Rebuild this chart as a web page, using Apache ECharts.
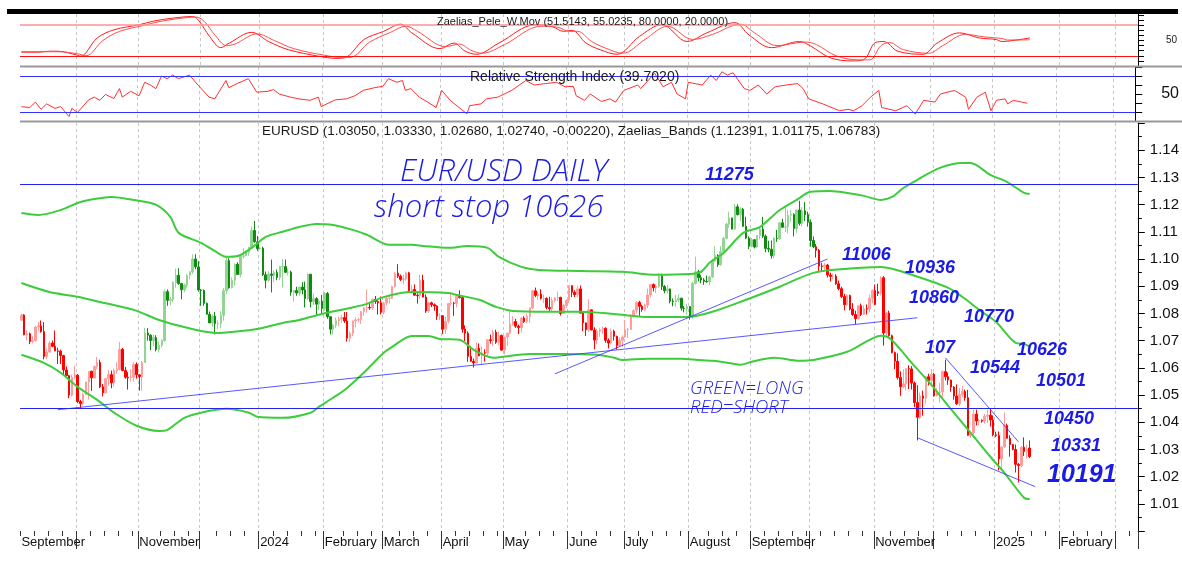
<!DOCTYPE html>
<html>
<head>
<meta charset="utf-8">
<script src="https://cdn.jsdelivr.net/npm/echarts/dist/echarts.min.js"></script>
<style>
  html, body { margin: 0; padding: 0; background: #fff; }
  #chart { width: 1182px; height: 567px; }
</style>
</head>
<body>
<div id="chart"></div>
<script>
// daily bars, values in pips above 1.0000: [open, high, low, close]
const sep23 = [[775,799,775,794],[794,797,720,721],[721,738,701,725],[725,730,687,697],[697,717,690,700],[700,752,697,750],[750,769,736,754],[754,774,729,733],[733,768,631,642],[642,670,632,658],[658,698,655,691],[691,700,675,679],[679,737,661,662],[662,674,614,661],[661,667,613,645],[645,648,576,592],[592,605,569,571],[571,574,488,500],[500,575,495,565],[565,608,559,573]];
const oct23 = [[573,577,470,476],[476,482,448,468],[468,509,465,503],[503,550,500,548],[548,588,483,587],[587,590,515,563],[563,608,560,605],[605,640,595,620],[620,630,525,530],[530,540,495,508],[508,563,505,560],[560,592,535,575],[575,590,525,545],[545,597,530,590],[590,620,578,594],[594,695,590,668],[668,673,587,590],[590,603,560,565],[565,584,520,563],[563,595,550,565],[565,620,550,612],[612,620,560,574]];
const nov23 = [[574,577,516,568],[568,625,516,620],[620,747,618,728],[728,746,700,720],[720,723,665,700],[700,722,680,711],[711,720,660,667],[667,697,656,683],[683,705,675,700],[700,888,695,880],[880,888,828,848],[848,860,830,851],[851,918,842,914],[914,965,895,940],[940,966,905,910],[910,910,852,887],[887,910,878,904],[904,945,895,940],[940,955,925,953],[953,1017,945,1000],[1000,1017,962,971],[971,992,880,886]];
const dec23 = [[886,890,828,884],[884,888,828,837],[837,840,795,797],[797,807,765,765],[765,795,750,790],[790,805,723,762],[762,775,743,763],[763,808,745,793],[793,893,773,883],[883,1009,870,994],[994,1003,891,894],[894,932,892,922],[922,983,902,981],[981,988,941,943],[943,1013,933,1010],[1010,1040,1002,1012],[1012,1030,1010,1025],[1025,1045,1012,1043],[1043,1120,1040,1105],[1105,1140,1060,1063],[1063,1085,1030,1038]];
const jan24 = [[1038,1045,1035,1040],[1040,1045,937,942],[942,954,892,922],[922,955,917,945],[945,998,877,940],[940,958,915,950],[950,961,922,932],[932,975,922,972],[972,1000,896,972],[972,998,949,951],[951,965,939,952],[952,957,865,878],[878,887,844,884],[884,898,865,875],[875,898,865,897],[897,915,870,886],[886,917,822,855],[855,948,850,944],[944,944,822,843],[843,873,830,854],[854,860,795,834],[834,852,812,845],[845,868,795,818]];
const feb24 = [[818,878,810,873],[873,879,780,788],[788,790,723,742],[742,762,722,757],[757,785,747,773],[773,788,753,779],[779,795,765,785],[785,805,765,772],[772,805,696,709],[709,733,695,727],[727,774,716,772],[772,786,749,776],[776,785,767,777],[777,809,761,807],[807,823,792,820],[820,888,803,822],[822,837,813,820],[820,855,812,851],[851,864,835,844],[844,848,796,839],[839,862,796,804]];
const mar24 = [[804,843,797,838],[838,865,830,856],[856,866,836,856],[856,902,853,899],[899,951,895,948],[948,981,930,937],[937,943,919,925],[925,942,907,927],[927,954,920,949],[949,953,876,883],[883,904,874,888],[888,907,865,867],[867,874,836,865],[865,942,853,922],[922,942,859,860],[860,870,802,809],[809,842,803,839],[839,843,823,832],[832,837,810,827],[827,830,776,790],[790,800,775,791]];
const apr24 = [[791,794,724,742],[742,788,725,771],[771,838,763,836],[836,877,829,838],[838,842,791,837],[837,863,822,862],[862,885,855,858],[858,860,729,742],[742,756,698,727],[727,734,622,642],[642,680,621,624],[624,634,601,618],[618,693,617,672],[672,690,643,644],[644,679,610,655],[655,668,623,654],[654,705,640,703],[703,722,689,700],[700,739,680,731],[731,740,688,694],[694,733,682,719],[719,722,663,665]];
const may24 = [[665,713,650,713],[713,728,680,727],[727,811,723,761],[761,790,755,770],[770,780,747,753],[753,759,724,748],[748,786,730,783],[783,790,765,770],[770,799,764,789],[789,822,765,820],[820,886,815,883],[883,895,860,866],[866,880,850,871],[871,889,851,855],[855,869,838,855],[855,859,815,822],[822,861,805,818],[818,858,805,847],[847,860,840,857],[857,880,845,859],[859,861,792,800],[800,834,799,830],[830,852,820,848]];
const jun24 = [[848,904,838,902],[902,903,860,878],[878,885,860,869],[869,902,860,890],[890,902,800,801],[801,806,735,765],[765,767,717,740],[740,852,732,813],[813,815,738,739],[739,749,668,702],[702,743,687,735],[735,747,714,740],[740,752,725,745],[745,749,692,701],[701,708,671,691],[691,744,688,734],[734,740,700,716],[716,718,667,682],[682,712,677,701],[701,719,678,713]];
const jul24 = [[713,776,710,740],[740,747,710,741],[741,796,739,790],[790,815,785,810],[810,845,800,840],[840,846,791,826],[826,832,806,814],[814,836,808,830],[830,891,819,868],[868,907,860,906],[906,910,881,894],[894,906,875,899],[899,948,894,938],[938,946,886,899],[899,904,874,883],[883,905,873,890],[890,891,837,845],[845,855,826,843],[843,868,825,849],[849,870,841,856],[856,857,810,819],[819,827,804,817],[817,834,795,825]];
const aug24 = [[825,827,777,789],[789,915,780,910],[910,1009,906,953],[953,960,918,931],[931,942,911,923],[923,930,905,918],[918,939,913,916],[916,938,903,934],[934,1000,930,993],[993,1047,990,1013],[1013,1018,971,979],[979,1047,975,1027],[1027,1081,1020,1076],[1076,1133,1072,1128],[1128,1174,1115,1151],[1151,1152,1108,1110],[1110,1202,1107,1192],[1192,1201,1160,1163],[1163,1190,1140,1183],[1183,1188,1118,1120],[1120,1155,1073,1077],[1077,1083,1036,1047]];
const sep24 = [[1047,1077,1043,1071],[1071,1073,1039,1044],[1044,1088,1041,1086],[1086,1120,1072,1110],[1110,1155,1077,1084],[1084,1090,1025,1039],[1039,1067,1025,1036],[1036,1068,1001,1012],[1012,1080,1003,1076],[1076,1107,1063,1075],[1075,1136,1070,1133],[1133,1148,1115,1117],[1117,1189,1099,1118],[1118,1180,1094,1161],[1161,1180,1137,1164],[1164,1168,1083,1112],[1112,1182,1095,1180],[1180,1214,1123,1131],[1131,1190,1120,1177],[1177,1209,1140,1163],[1163,1174,1119,1135]];
const oct24 = [[1135,1145,1045,1068],[1068,1083,1040,1045],[1045,1055,1005,1032],[1032,1037,951,974],[974,986,953,973],[973,985,956,978],[978,982,932,941],[941,950,917,936],[936,947,926,937],[937,944,905,909],[909,921,885,891],[891,898,857,862],[862,872,811,832],[832,870,828,866],[866,869,811,816],[816,838,791,796],[796,810,761,781],[781,829,778,828],[828,836,790,796],[796,829,793,817],[817,833,796,816],[816,870,804,856],[856,888,837,884]];
const nov24 = [[884,906,831,833],[880,909,864,874],[874,937,866,931],[931,937,682,728],[728,805,718,801],[801,810,709,718],[718,722,653,656],[656,660,595,624],[624,653,557,564],[564,587,497,530],[530,594,525,541],[541,600,517,597],[597,609,522,596],[596,606,520,544],[544,550,455,472],[472,536,333,418],[418,509,411,496],[496,516,424,488],[488,570,468,567],[567,578,535,553],[553,596,532,576]];
const dec24 = [[576,581,494,497],[497,525,495,510],[510,545,472,511],[511,590,490,586],[586,630,554,567],[567,583,537,555],[555,556,512,529],[529,533,483,496],[496,539,463,468],[468,525,459,502],[502,534,492,513],[513,520,479,490],[490,519,350,352],[352,367,343,362],[362,445,343,430],[430,446,388,404],[404,413,389,407],[407,410,398,404],[404,431,395,422],[422,446,397,426],[426,448,384,408],[408,425,348,354]];
const jan25 = [[354,365,345,351],[351,366,223,265],[265,310,227,309],[309,436,305,388],[388,395,340,341],[341,352,273,318],[318,320,297,300],[300,318,215,245],[245,250,178,241],[241,312,234,308],[308,344,276,292],[292,317,266,300],[305,333,268,274]];

// green = long, red = short
const regimeStart = ['2023-09-04', '2023-11-03', '2024-02-08', '2024-07-17', '2024-10-03'];
const regimeSide = ['short', 'long', 'short', 'long', 'short'];

// Zaelias bands, [bar index, price]
const upperBand = [[0,1.1169],[6,1.1162],[14,1.1180],[20,1.1206],[24,1.1217],[32,1.1228],[40,1.1217],[48,1.1199],[53,1.1155],[56,1.1096],[64,1.1059],[70,1.1022],[73,1.1008],[77,1.1011],[82,1.1041],[87,1.1081],[93,1.1100],[99,1.1118],[105,1.1129],[111,1.1125],[118,1.1107],[123,1.1089],[131,1.1052],[139,1.1052],[143,1.1048],[152,1.1041],[159,1.1048],[166,1.1041],[170,1.1008],[178,1.0971],[184,1.0960],[199,1.0956],[214,1.0953],[226,1.0942],[238,1.0945],[242,1.0953],[245,1.0986],[250,1.1022],[257,1.1096],[263,1.1118],[270,1.1180],[276,1.1217],[281,1.1247],[288,1.1250],[294,1.1243],[300,1.1232],[306,1.1217],[310,1.1228],[314,1.1261],[319,1.1291],[327,1.1335],[335,1.1353],[338,1.1353],[345,1.1309],[351,1.1283],[357,1.1243],[359,1.1239]];
const middleBand = [[0,1.0912],[10,1.0879],[20,1.0861],[28,1.0842],[40,1.0813],[49,1.0776],[59,1.0747],[70,1.0728],[75,1.0732],[84,1.0743],[93,1.0765],[99,1.0776],[107,1.0798],[117,1.0820],[123,1.0835],[128,1.0857],[135,1.0875],[139,1.0879],[152,1.0875],[155,1.0868],[163,1.0850],[169,1.0824],[175,1.0809],[187,1.0806],[199,1.0806],[211,1.0798],[223,1.0787],[237,1.0787],[246,1.0806],[258,1.0850],[270,1.0898],[282,1.0949],[294,1.0964],[306,1.0971],[310,1.0964],[317,1.0942],[330,1.0894],[335,1.0861],[341,1.0813],[347,1.0769],[354,1.0692],[357,1.0688],[359,1.0678]];
const lowerBand = [[0,1.0648],[8,1.0618],[14,1.0582],[20,1.0530],[27,1.0482],[33,1.0435],[41,1.0387],[49,1.0368],[52,1.0372],[58,1.0416],[64,1.0435],[73,1.0449],[81,1.0435],[84,1.0420],[93,1.0416],[103,1.0435],[106,1.0457],[111,1.0490],[116,1.0526],[123,1.0593],[129,1.0655],[132,1.0677],[139,1.0717],[145,1.0717],[149,1.0706],[156,1.0703],[161,1.0666],[168,1.0637],[171,1.0640],[181,1.0651],[193,1.0651],[205,1.0648],[211,1.0637],[214,1.0629],[223,1.0633],[235,1.0633],[241,1.0629],[246,1.0626],[252,1.0618],[256,1.0611],[260,1.0622],[268,1.0637],[277,1.0626],[282,1.0629],[294,1.0659],[302,1.0703],[306,1.0718],[309,1.0710],[314,1.0655],[317,1.0618],[324,1.0537],[330,1.0460],[338,1.0361],[345,1.0273],[350,1.0214],[357,1.0122],[359,1.01175]];

// drawn trend lines, [bar index, price]
const trendLines = [
  [[13,1.0446],[319,1.0784]],
  [[190,1.0578],[287,1.1000]],
  [[329,1.0637],[355,1.0328]],
  [[319,1.0343],[361,1.0163]]
];
const levelLines = [1.1275, 1.045];

// Zaelias_Pele_W.Mov lines, [bar index, value]
const peleFast = [[0,27],[6,27],[10,29],[13,29],[20,21],[21,19],[27,55],[33,71],[42,81],[47,88],[54,94],[61,97],[63,90],[67,58],[71,36],[74,45],[82,66],[88,48],[95,32],[106,19],[112,15],[115,16],[122,52],[129,68],[135,82],[139,65],[149,34],[154,45],[158,29],[162,23],[170,45],[183,81],[189,77],[193,68],[196,70],[201,45],[206,32],[212,23],[220,58],[228,81],[237,48],[244,65],[254,85],[259,61],[267,36],[277,48],[281,39],[288,16],[296,10],[300,13],[304,46],[307,48],[312,29],[321,23],[326,45],[334,65],[341,55],[347,52],[349,48],[353,50],[359,55]];
const peleSlow = [[0,28],[6,28],[10,28],[13,28],[20,24],[23,20],[29,50],[35,68],[43,79],[49,87],[56,93],[62,96],[65,88],[69,60],[73,40],[76,43],[84,63],[90,50],[97,34],[108,21],[114,17],[117,17],[124,47],[131,65],[137,78],[141,68],[151,38],[156,43],[160,31],[164,25],[172,42],[185,78],[191,76],[195,68],[198,68],[203,48],[208,35],[214,25],[222,52],[230,78],[239,52],[246,62],[256,82],[261,65],[269,40],[279,47],[283,42],[290,20],[298,12],[302,12],[306,40],[309,46],[314,32],[323,25],[328,40],[336,62],[343,57],[349,54],[351,51],[355,51],[359,51.5]];

// Relative Strength Index, [bar index, value]
const rsiLine = [[0,35.9],[3,35],[5,41],[7,33],[9,39],[12,34],[14,36],[17,25],[18,34],[20,29.5],[24,43.5],[26,46.5],[28,43],[30,49.5],[33,45],[35,56],[36,46.5],[39,53],[42,48],[44,63],[46,60],[48,56],[50,70],[52,67],[54,71],[56,67],[60,71],[63,60],[67,46.5],[69,44.6],[73,65],[74,57],[77,61.6],[81,67],[84,52],[88,53],[90,55],[92,50],[96,46.5],[99,44.6],[103,43],[106,46.5],[107,36],[112,43.5],[116,44.6],[119,48],[122,54],[126,57],[129,58.5],[131,67],[134,63],[136,65],[137,54],[139,56],[142,46.5],[145,41],[148,35],[150,54],[153,43],[157,33],[159,28],[160,37],[164,39],[166,44.6],[170,46.5],[175,54],[180,65],[183,60],[187,61.6],[191,63],[194,58],[197,58.5],[198,48],[201,43],[203,50],[207,41.6],[210,44.6],[212,41],[215,54],[220,60],[221,56],[226,73],[229,58],[232,63],[234,50],[237,44.6],[238,63],[243,60],[246,71],[248,65],[250,74.7],[252,71],[254,73.6],[255,69],[258,56],[260,54],[263,60],[266,50],[269,58],[273,60],[277,61.6],[279,56],[281,44.6],[286,39],[292,31.4],[295,33],[297,31.4],[300,37],[303,46.5],[306,54],[307,35],[312,31.4],[316,37],[319,27.7],[322,43],[326,41],[328,50],[333,54],[337,46.5],[338,33],[341,46.5],[344,52],[346,31.4],[348,43],[351,44.6],[352,39],[354,43],[357,41],[359,39.7]];

// x axis: month starts (grid + long tick) and the month labels that are printed
const monthStarts = ['2023-10-02','2023-11-01','2023-12-01','2024-01-01','2024-02-01','2024-03-01','2024-04-01','2024-05-01','2024-06-03','2024-07-01','2024-08-01','2024-09-02','2024-10-01','2024-11-01','2024-12-02','2025-01-01','2025-02-03','2025-03-03'];
const labelDates = ['2023-09-04','2023-11-01','2024-01-01','2024-02-01','2024-03-01','2024-04-01','2024-05-01','2024-06-03','2024-07-01','2024-08-01','2024-09-02','2024-11-01','2025-01-01','2025-02-03'];
const labelTexts = ['September','November','2024','February','March','April','May','June','July','August','September','November','2025','February'];

// trading-day categories, Sep 2023 .. mid Mar 2025
const days = [];
for (let t = Date.UTC(2023, 8, 4); t <= Date.UTC(2025, 2, 12); t += 86400000) {
  const d = new Date(t);
  if (d.getUTCDay() === 0 || d.getUTCDay() === 6) continue;
  days.push(d.toISOString().slice(0, 10));
}

const monthSet = new Set(monthStarts);
const labelMap = new Map(labelDates.map((d, i) => [d, labelTexts[i]]));
const monthIdx = monthStarts.map(d => days.indexOf(d));
const weekTicks = new Set(days.filter((d, i) =>
  new Date(d + 'T00:00:00Z').getUTCDay() === 1 && !monthIdx.some(m => i - m >= 0 && i - m <= 3)));

const palette = {
  long: { up: '#92d492', down: '#118a11' },
  short: { up: '#ff9d9d', down: '#ff0000' }
};

const bars = [].concat(sep23, oct23, nov23, dec23, jan24, feb24, mar24, apr24, may24, jun24, jul24, aug24, sep24, oct24, nov24, dec24, jan25);
const px = v => 1 + v / 10000;
const sideOf = i => {
  let side = regimeSide[0];
  regimeStart.forEach((s, k) => { if (days[i] >= s) side = regimeSide[k]; });
  return side;
};
// one candlestick series per regime, '-' where the other regime holds
const candleData = side => bars.map((b, i) =>
  sideOf(i) === side ? [px(b[0]), px(b[3]), px(b[2]), px(b[1])] : '-');

const blue = '#1b1be6';
const topX = g => ({
  gridIndex: g, type: 'category', data: days, boundaryGap: true, position: 'bottom',
  axisLine: { show: false }, axisTick: { show: false }, axisLabel: { show: false },
  splitLine: { show: true, interval: (i, v) => monthSet.has(v), lineStyle: { color: '#c6c6c6', type: [3, 3] } }
});

const note = (text, x, y, font) => ({
  type: 'text', x: x, y: y, z: 50, silent: true,
  style: { text: text, fill: blue, font: font, textVerticalAlign: 'middle', verticalAlign: 'middle' }
});
const num = 'italic bold 18px "Liberation Sans", Arial, sans-serif';
const hand = size => 'italic 300 ' + size + 'px "Open Sans", "DejaVu Sans", sans-serif';
const plain = (text, x, y, size) => ({
  type: 'text', x: x, y: y, z: 50, silent: true,
  style: { text: text, fill: '#1a1a1a', font: size + 'px "Liberation Sans", Arial, sans-serif', textVerticalAlign: 'middle', verticalAlign: 'middle' }
});
const candleSeries = side => ({
  name: side, type: 'candlestick', xAxisIndex: 2, yAxisIndex: 2, data: candleData(side),
  barWidth: 2, z: 2,
  itemStyle: {
    color: palette[side].up, color0: palette[side].down,
    borderColor: palette[side].up, borderColor0: palette[side].down, borderWidth: 1
  }
});

const chart = echarts.init(document.getElementById('chart'));
chart.setOption({
  animation: false,
  backgroundColor: '#ffffff',
  textStyle: { fontFamily: '"Liberation Sans", Arial, sans-serif' },
  grid: [
    { left: 20, right: 44, top: 14, height: 52 },
    { left: 20, right: 44, top: 67, height: 54 },
    { left: 20, right: 44, top: 123, height: 408 }
  ],
  xAxis: [
    topX(0),
    topX(1),
    {
      gridIndex: 2, type: 'category', data: days, boundaryGap: true, position: 'bottom',
      axisLine: { show: false }, axisLabel: { show: false },
      axisTick: { show: true, interval: (i, v) => weekTicks.has(v), length: 5, lineStyle: { color: '#333' } },
      splitLine: { show: true, interval: (i, v) => monthSet.has(v), lineStyle: { color: '#c6c6c6', type: [3, 3] } }
    },
    {
      gridIndex: 2, type: 'category', data: days, boundaryGap: true, position: 'bottom',
      axisLine: { show: false }, splitLine: { show: false },
      axisTick: { show: true, interval: (i, v) => monthSet.has(v), length: 18, lineStyle: { color: '#333' } },
      axisLabel: {
        show: true, interval: (i, v) => labelMap.has(v), formatter: v => labelMap.get(v) || '',
        align: 'left', margin: 5, fontSize: 13, color: '#111'
      }
    }
  ],
  yAxis: [
    {
      gridIndex: 0, type: 'value', position: 'right', min: 0, max: 102, interval: 10,
      axisLine: { show: true, lineStyle: { color: '#000' } },
      axisTick: { show: true, length: 6, lineStyle: { color: '#000' } },
      axisLabel: { formatter: v => (v === 50 ? '50' : ''), fontSize: 10, margin: 28, color: '#222', showMaxLabel: false },
      splitLine: { show: false }
    },
    {
      gridIndex: 1, type: 'value', position: 'right', min: 20, max: 80, interval: 10,
      axisLine: { show: true, lineStyle: { color: '#000' } },
      axisTick: { show: true, length: 7, lineStyle: { color: '#000' } },
      axisLabel: { formatter: v => (v === 50 ? '50' : ''), fontSize: 16, margin: 26, color: '#111' },
      splitLine: { show: false }
    },
    {
      gridIndex: 2, type: 'value', position: 'right', min: 1.0, max: 1.15, interval: 0.01,
      axisLine: { show: true, lineStyle: { color: '#000' } },
      axisTick: { show: true, length: 7, lineStyle: { color: '#000' } },
      minorTick: { show: true, splitNumber: 2, length: 4, lineStyle: { color: '#000' } },
      axisLabel: { formatter: v => v.toFixed(2), fontSize: 15, margin: 12, color: '#111', showMinLabel: false, showMaxLabel: false },
      splitLine: { show: false }
    }
  ],
  series: [
    {
      name: 'Pele fast', type: 'line', xAxisIndex: 0, yAxisIndex: 0, data: peleFast,
      smooth: 0.35, symbol: 'none', lineStyle: { color: '#ff1a1a', width: 1 },
      markLine: {
        silent: true, symbol: ['none', 'none'], label: { show: false },
        data: [
          { yAxis: 80, lineStyle: { color: '#ff9090', width: 1.5, type: 'solid' } },
          { yAxis: 20, lineStyle: { color: '#ff1010', width: 1.2, type: 'solid' } }
        ]
      }
    },
    {
      name: 'Pele slow', type: 'line', xAxisIndex: 0, yAxisIndex: 0, data: peleSlow,
      smooth: 0.35, symbol: 'none', lineStyle: { color: '#ff4d4d', width: 1 }
    },
    {
      name: 'RSI', type: 'line', xAxisIndex: 1, yAxisIndex: 1, data: rsiLine,
      symbol: 'none', lineStyle: { color: '#ff3030', width: 1 },
      markLine: {
        silent: true, symbol: ['none', 'none'], label: { show: false },
        lineStyle: { color: '#3030ff', width: 1.2, type: 'solid' },
        data: [{ yAxis: 70 }, { yAxis: 30 }]
      }
    },
    candleSeries('short'),
    candleSeries('long'),
    {
      name: 'levels', type: 'line', xAxisIndex: 2, yAxisIndex: 2, data: [], z: 3,
      markLine: {
        silent: true, precision: 5, symbol: ['none', 'none'], label: { show: false },
        lineStyle: { color: '#2323ee', width: 1.2, type: 'solid' },
        data: levelLines.map(v => ({ yAxis: v }))
      }
    },
    ...[upperBand, middleBand, lowerBand].map(b => ({
      type: 'line', xAxisIndex: 2, yAxisIndex: 2, data: b, z: 3,
      smooth: 0.3, symbol: 'none', lineStyle: { color: '#3ccc3c', width: 2 }
    })),
    ...trendLines.map(t => ({
      type: 'line', xAxisIndex: 2, yAxisIndex: 2, data: t, z: 4,
      symbol: 'none', lineStyle: { color: '#3a3aff', width: 1, opacity: 0.85 }
    }))
  ],
  graphic: [
    { type: 'rect', shape: { x: 7, y: 9, width: 1171, height: 5 }, style: { fill: '#000' }, z: 60 },
    { type: 'line', shape: { x1: 20, y1: 66.5, x2: 1182, y2: 66.5 }, style: { stroke: '#999', lineWidth: 2 }, z: 60 },
    { type: 'line', shape: { x1: 20, y1: 121.5, x2: 1182, y2: 121.5 }, style: { stroke: '#999', lineWidth: 2 }, z: 60 },
    plain('Zaelias_Pele_W.Mov (51.5143, 55.0235, 80.0000, 20.0000)', 437, 22, 11),
    plain('Relative Strength Index (39.7020)', 470, 77, 14),
    plain('EURUSD (1.03050, 1.03330, 1.02680, 1.02740, -0.00220), Zaelias_Bands (1.12391, 1.01175, 1.06783)', 262, 131, 13.5),
    note('EUR/USD DAILY', 400, 172, hand(31)),
    note('short stop 10626', 374, 208, hand(31)),
    note('GREEN=LONG', 690, 389, hand(18.5)),
    note('RED=SHORT', 690, 408, hand(18.5)),
    note('11275', 705, 175, num),
    note('11006', 842, 255, num),
    note('10936', 905, 268, num),
    note('10860', 909, 298, num),
    note('10770', 964, 317, num),
    note('10626', 1017, 350, num),
    note('107', 925, 348, num),
    note('10544', 970, 368, num),
    note('10501', 1036, 381, num),
    note('10450', 1044, 419, num),
    note('10331', 1051, 446, num),
    note('10191', 1047, 475, 'italic bold 25px "Liberation Sans", Arial, sans-serif')
  ]
});
</script>
</body>
</html>
